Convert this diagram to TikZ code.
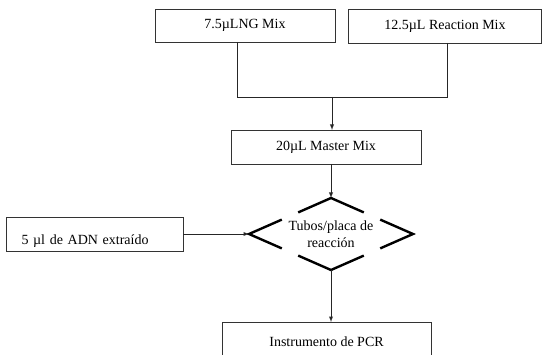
\documentclass[tikz,border=0pt]{standalone}
\usepackage{fontspec}
\setmainfont{Liberation Serif}
\usetikzlibrary{arrows,shapes.geometric,calc}

\begin{document}
\begin{tikzpicture}[x=1pt,y=-1pt,
    box/.style={draw=black!80, line width=0.8pt, inner sep=0pt, outer sep=0pt,
        font=\fontsize{14}{17}\selectfont},
    link/.style={draw=black!85, line width=0.9pt},
    diamedge/.style={line width=2.4pt}]

\useasboundingbox (0,0) rectangle (543,355);
\clip (0,0) rectangle (543,355);

\coordinate (join) at (332,97);

\node [box, minimum width=180pt, minimum height=33pt] (ng) at (245,25.5) {7.5µLNG Mix};
\node [box, minimum width=193pt, minimum height=34pt] (rm) at (445,26) {12.5µL Reaction Mix};
\node [box, minimum width=190pt, minimum height=34pt] (master) at (326,147) {20µL Master Mix};
\node [box, minimum width=177pt, minimum height=34pt, text width=146pt, align=left,
    text height=20pt, text depth=0pt] (adn) at (94.5,234) {5 µl de ADN extraído};
\node [box, minimum width=209pt, minimum height=40pt] (pcr) at (326.5,342) {Instrumento de PCR};

\node [diamond, draw=none, inner sep=0pt, outer sep=0pt, aspect=2.28,
    minimum width=164pt, minimum height=72pt, align=center,
    font=\fontsize{14}{17}\selectfont] (tubos) at (331,234) {Tubos/placa de\\reacción};

\foreach \c/\a/\b in {north/west/east, south/west/east, west/north/south, east/north/south}
    \draw [diamedge] ($(tubos.\c)!0.4!(tubos.\a)$) -- (tubos.\c) -- ($(tubos.\c)!0.4!(tubos.\b)$);

\draw [link] ([xshift=-8pt]ng.south) |- (join);
\draw [link] ([xshift=2pt]rm.south) |- (join);
\draw [link,-latex] (join) -- (join |- master.north);
\draw [link,-latex] (tubos.north |- master.south) -- (tubos.north);
\draw [link,-latex] (adn.east) -- (tubos.west);
\draw [link,-latex] (tubos.south) -- (tubos.south |- pcr.north);

\end{tikzpicture}
\end{document}
